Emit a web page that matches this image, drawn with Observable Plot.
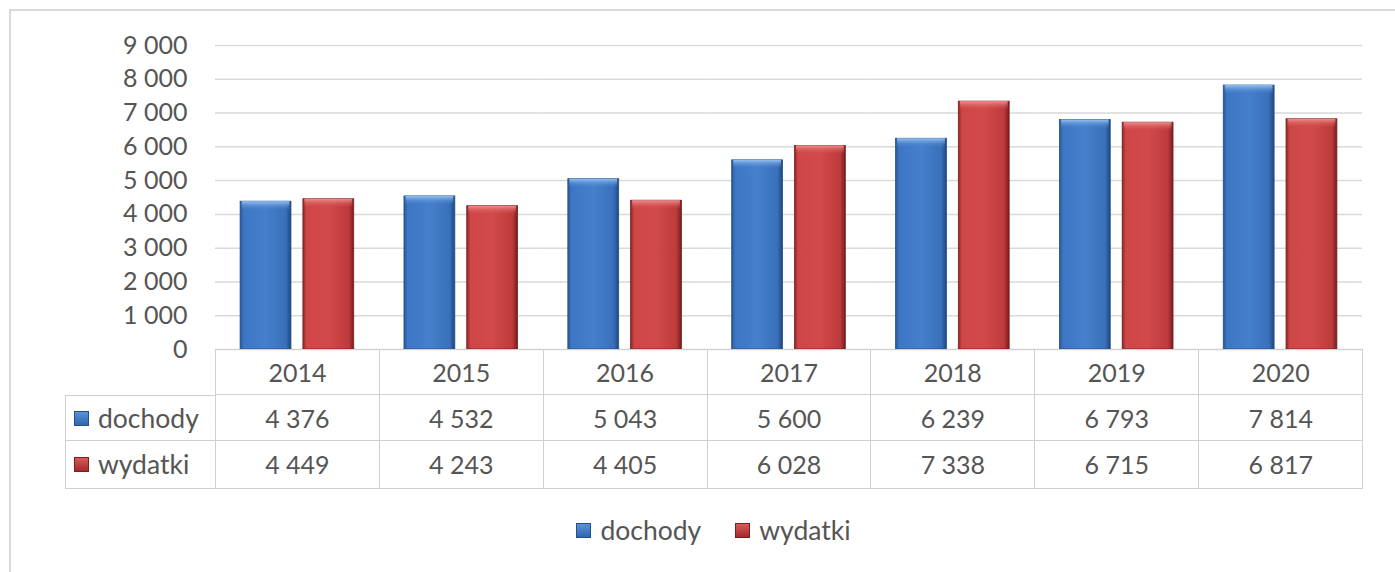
<!DOCTYPE html>
<html><head><meta charset="utf-8">
<script src="https://cdn.jsdelivr.net/npm/d3@7"></script>
<script src="https://cdn.jsdelivr.net/npm/@observablehq/plot@0.6"></script>
<style>
html,body{margin:0;padding:0;background:#fff;overflow:hidden;}
#root{position:relative;width:1395px;height:572px;overflow:hidden;font-family:Lato,"Open Sans",sans-serif;color:#595959;}
#frame{position:absolute;left:9px;top:9px;width:1450px;height:650px;border:2px solid #d9d9d9;box-sizing:border-box;}
#chart{position:absolute;left:0;top:0;}
.cell{position:absolute;box-sizing:border-box;display:flex;align-items:center;justify-content:center;font-size:25px;color:#555;border-color:#d0d0d0;border-style:solid;border-width:0;}
.lab{justify-content:flex-start;padding-left:8px;font-size:26.5px;}
.sq{display:inline-block;width:15px;height:15px;margin-right:9px;box-sizing:border-box;}
#legend{position:absolute;display:flex;justify-content:center;align-items:center;font-size:26.5px;color:#555;}
#legend .item{display:flex;align-items:center;margin:0 17px;}
</style></head><body>
<div id="root"><div id="frame"></div><div id="chart"></div><div id="table"></div><div id="legend"></div></div>
<script>
const years = ["2014","2015","2016","2017","2018","2019","2020"];
const dochody = [4376,4532,5043,5600,6239,6793,7814];
const wydatki = [4449,4243,4405,6028,7338,6715,6817];
const seriesNames = ["dochody","wydatki"];
const yTicks = [0,1000,2000,3000,4000,5000,6000,7000,8000,9000];

const fmt = d => d3.format(",")(d).replace(/,/g, " ");
const rows = years.flatMap((y, i) => [
  {year: y, series: "dochody", value: dochody[i]},
  {year: y, series: "wydatki", value: wydatki[i]}
]);
const rowsD = rows.filter(d => d.series === "dochody");
const rowsW = rows.filter(d => d.series === "wydatki");

const plot = Plot.plot({
  width: 1395, height: 362,
  marginLeft: 215, marginRight: 33, marginTop: 45, marginBottom: 13,
  style: {fontFamily: "Lato, 'Open Sans', sans-serif", fontSize: "25px", color: "#555", background: "transparent", overflow: "visible"},
  fx: {domain: years, padding: 0, round: false, axis: null},
  x: {domain: seriesNames, paddingInner: 0.19, paddingOuter: 0.4, round: false, axis: null},
  y: {domain: [0, 9000], ticks: yTicks},
  marks: [
    Plot.gridY(yTicks, {stroke: "#d9d9d9", strokeOpacity: 1, strokeWidth: 1.5}),
    Plot.axisY(yTicks, {tickSize: 0, tickPadding: 28, tickFormat: fmt, label: null, fontSize: 25}),
    Plot.barY(rowsD, {fx: "year", x: "series", y: "value", fill: "url(#gBlue)", stroke: "#244f8c", strokeWidth: 0.8}),
    Plot.barY(rowsW, {fx: "year", x: "series", y: "value", fill: "url(#gRed)", stroke: "#7a1e20", strokeWidth: 0.8}),
    Plot.barY(rowsD, {fx: "year", x: "series", y1: "value", y2: "value", insetBottom: -9, insetLeft: 1.5, insetRight: 1.5, fill: "url(#tBlue)"}),
    Plot.barY(rowsW, {fx: "year", x: "series", y1: "value", y2: "value", insetBottom: -9, insetLeft: 1.5, insetRight: 1.5, fill: "url(#tRed)"})
  ]
});

const defs = d3.select(plot).insert("defs", ":first-child");
function grad(id, stops, vertical) {
  const g = defs.append("linearGradient").attr("id", id)
    .attr("x1", 0).attr("x2", vertical ? 0 : 1).attr("y1", 0).attr("y2", vertical ? 1 : 0);
  stops.forEach(([o, c, op]) => g.append("stop").attr("offset", o).attr("stop-color", c).attr("stop-opacity", op ?? 1));
}
grad("gBlue", [["0%", "#2a5595"], ["7%", "#3d76c3"], ["50%", "#4580cc"], ["90%", "#3a70b9"], ["100%", "#1f467f"]]);
grad("gRed", [["0%", "#8c2527"], ["7%", "#cf4646"], ["50%", "#d24a4a"], ["90%", "#bd3a3c"], ["100%", "#761c1e"]]);
grad("tBlue", [["0%", "#9cc6f4", 0.95], ["100%", "#4580cc", 0]], true);
grad("tRed", [["0%", "#f39a9a", 0.9], ["100%", "#d24a4a", 0]], true);

document.getElementById("chart").appendChild(plot);

// data table under the chart, aligned with the fx scale
const fxs = plot.scale("fx");
const x0 = fxs.apply(years[0]);
const w = fxs.bandwidth;
const y0 = plot.scale("y").apply(0);
const labW = 150, rowH = 46;
const sqCss = {
  dochody: "background:linear-gradient(180deg,#5b93d8,#2f66b0);border:1px solid #244f8c;",
  wydatki: "background:linear-gradient(180deg,#d85a5a,#a52a2c);border:1px solid #7a1e20;"
};
const tbl = document.getElementById("table");
const table = [[null, ...years], ["dochody", ...dochody.map(fmt)], ["wydatki", ...wydatki.map(fmt)]];
table.forEach((row, r) => {
  row.forEach((val, c) => {
    if (r === 0 && c === 0) return;
    const div = document.createElement("div");
    div.className = "cell" + (c === 0 ? " lab" : "");
    const left = c === 0 ? x0 - labW : x0 + (c - 1) * w;
    const width = c === 0 ? labW : w;
    const top = (r === 0 || (r === 1 && c === 0)) ? 1.5 : 0;
    const right = c === row.length - 1 ? 1.5 : 0;
    div.style.cssText = `left:${left}px;top:${y0 + r * rowH}px;width:${width + (right ? 1.5 : 0)}px;height:${rowH + (r===2?1.5:0)}px;border-width:${top}px ${right}px 1.5px 1.5px;`;
    if (c === 0) {
      div.innerHTML = `<span class="sq" style="${sqCss[val]}"></span>${val}`;
    } else {
      div.textContent = val;
    }
    tbl.appendChild(div);
  });
});

const leg = document.getElementById("legend");
leg.style.cssText += `left:${x0 - labW}px;width:${labW + 7 * w}px;top:${y0 + 3 * rowH + 26}px;height:34px;`;
seriesNames.forEach(s => {
  const it = document.createElement("div");
  it.className = "item";
  it.innerHTML = `<span class="sq" style="${sqCss[s]}"></span>${s}`;
  leg.appendChild(it);
});
</script>
</body></html>
